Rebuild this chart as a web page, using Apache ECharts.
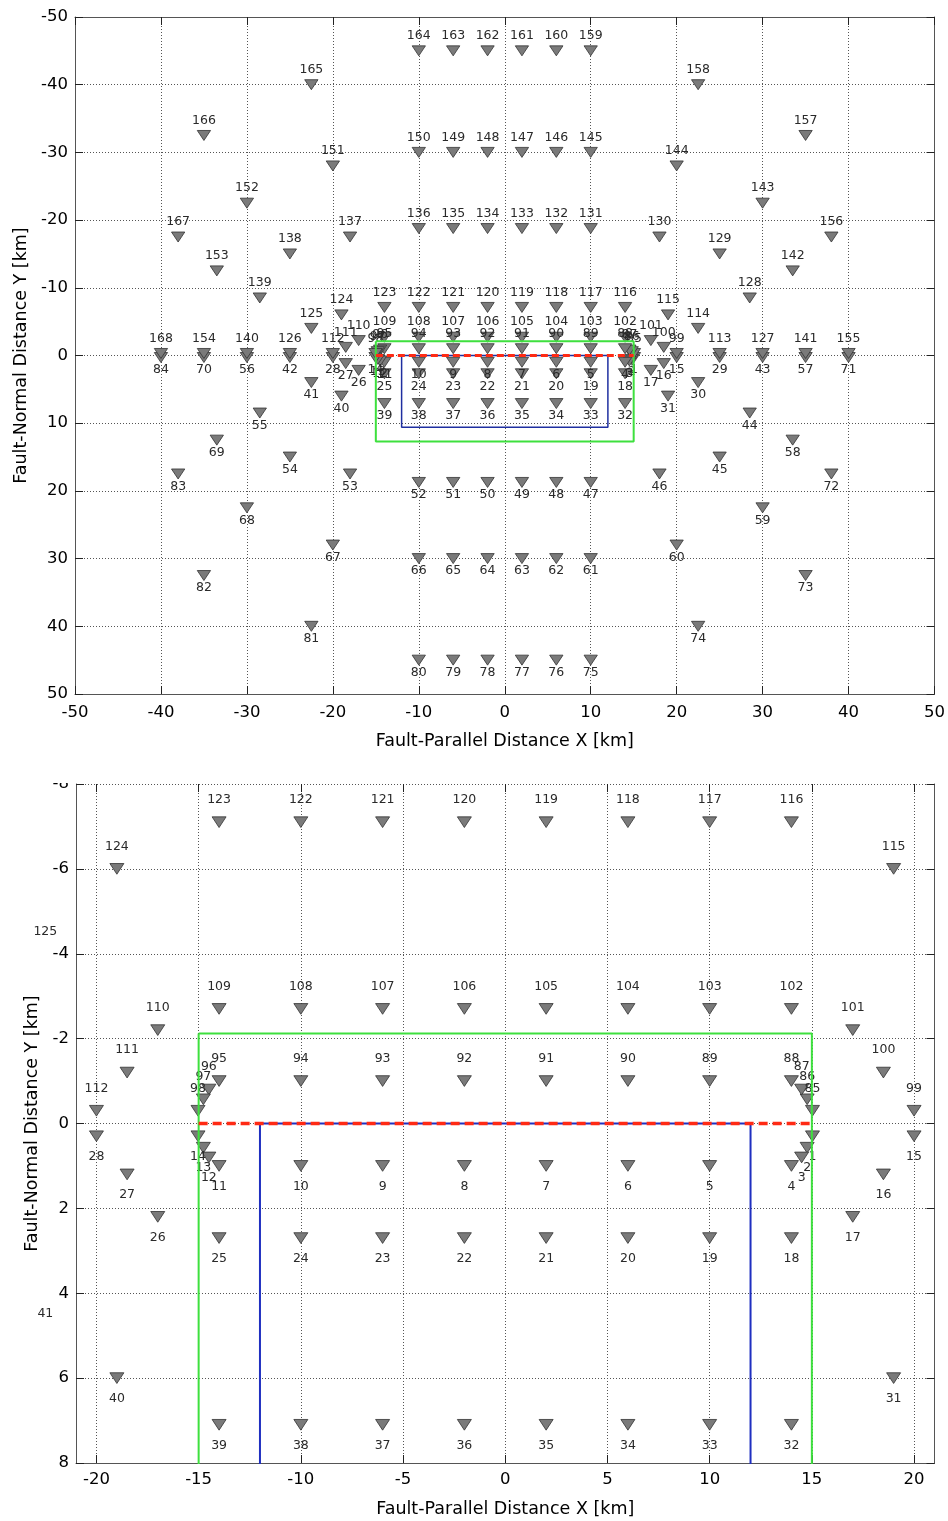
<!DOCTYPE html>
<html><head><meta charset="utf-8">
<script src="https://cdn.jsdelivr.net/npm/echarts@6/dist/echarts.min.js"></script>
<style>html,body{margin:0;padding:0;background:#fff}#c{width:948px;height:1521px}</style>
</head><body><div id="c"></div><script>
// Stations 1-84 (south side, labels below)
const southX = [15.03,14.77,14.5,14,10,6,2,-2,-6,-10,-14,-14.5,-14.77,-15.03,
  20,18.5,17,14,10,6,2,-2,-6,-10,-14,-17,-18.5,-20,
  25,22.5,19,14,10,6,2,-2,-6,-10,-14,-19,-22.5,-25,
  30,28.5,25,18,10,6,2,-2,-6,-10,-18,-25,-28.5,-30,
  35,33.5,30,20,10,6,2,-2,-6,-10,-20,-30,-33.5,-35,
  40,38,35,22.5,10,6,2,-2,-6,-10,-22.5,-35,-38,-40];
const southY = [0.3,0.57,0.8,1,1,1,1,1,1,1,1,0.8,0.57,0.3,
  0.3,1.2,2.2,2.7,2.7,2.7,2.7,2.7,2.7,2.7,2.7,2.2,1.2,0.3,
  0.3,4,6,7.1,7.1,7.1,7.1,7.1,7.1,7.1,7.1,6,4,0.3,
  0.3,8.5,15,17.5,18.75,18.75,18.75,18.75,18.75,18.75,17.5,15,8.5,0.3,
  0.3,12.5,22.5,28,30,30,30,30,30,30,28,22.5,12.5,0.3,
  0.3,17.5,32.5,40,45,45,45,45,45,45,40,32.5,17.5,0.3];
// Stations 85-168 (north side, labels above)
const northX = [15.03,14.77,14.5,14,10,6,2,-2,-6,-10,-14,-14.5,-14.77,-15.03,
  20,18.5,17,14,10,6,2,-2,-6,-10,-14,-17,-18.5,-20,
  25,22.5,19,14,10,6,2,-2,-6,-10,-14,-19,-22.5,-25,
  30,28.5,25,18,10,6,2,-2,-6,-10,-18,-25,-28.5,-30,
  35,33.5,30,20,10,6,2,-2,-6,-10,-20,-30,-33.5,-35,
  40,38,35,22.5,10,6,2,-2,-6,-10,-22.5,-35,-38,-40];
const northY = [-0.3,-0.57,-0.8,-1,-1,-1,-1,-1,-1,-1,-1,-0.8,-0.57,-0.3,
  -0.3,-1.2,-2.2,-2.7,-2.7,-2.7,-2.7,-2.7,-2.7,-2.7,-2.7,-2.2,-1.2,-0.3,
  -0.3,-4,-6,-7.1,-7.1,-7.1,-7.1,-7.1,-7.1,-7.1,-7.1,-6,-4,-0.3,
  -0.3,-8.5,-15,-17.5,-18.75,-18.75,-18.75,-18.75,-18.75,-18.75,-17.5,-15,-8.5,-0.3,
  -0.3,-12.5,-22.5,-28,-30,-30,-30,-30,-30,-30,-28,-22.5,-12.5,-0.3,
  -0.3,-17.5,-32.5,-40,-45,-45,-45,-45,-45,-45,-40,-32.5,-17.5,-0.3];
const southFirstId = 1, northFirstId = 85;

// Outlines
const faultX = [-15, 15], faultY = [0, 0];
const outerBoxX = [-15, 15, 15, -15, -15], outerBoxY = [-2.12, -2.12, 12.7, 12.7, -2.12];
const innerBoxX = [-12, 12, 12, -12, -12], innerBoxY = [0, 0, 10.6, 10.6, 0];

// Tick labels
const overviewTicks = [-50,-40,-30,-20,-10,0,10,20,30,40,50];
const detailXTicks = [-20,-15,-10,-5,0,5,10,15,20];
const detailYTicks = [-8,-6,-4,-2,0,2,4,6,8];

const FONT = 'DejaVu Sans';
const AXC = '#555';
const GRC = '#555';

function stations(above, below) {
  const out = [];
  southX.forEach((x, i) => out.push({ value: [x, southY[i], southFirstId + i], label: { offset: [0, below] } }));
  northX.forEach((x, i) => out.push({ value: [x, northY[i], northFirstId + i], label: { offset: [0, above] } }));
  return out;
}
const zip = (xs, ys) => xs.map((x, i) => [x, ys[i]]);

function xMain(g, min, max, ticks, gap, margin) {
  return { gridIndex: g, type: 'value', min, max, position: 'bottom',
    name: 'Fault-Parallel Distance X [km]', nameLocation: 'middle', nameGap: gap,
    nameTextStyle: { fontFamily: FONT, fontSize: 17.5, color: '#000' },
    axisLine: { show: true, onZero: false, lineStyle: { color: AXC, width: 1 } },
    axisTick: { show: true, inside: true, length: 8, customValues: ticks, lineStyle: { color: '#222' } },
    axisLabel: { fontFamily: FONT, fontSize: 16.5, color: '#000', margin, customValues: ticks },
    splitLine: { show: true, lineStyle: { color: GRC, type: [1, 2], width: 1 } } };
}
function xTop(g, min, max, ticks, line) {
  return { gridIndex: g, type: 'value', min, max, position: 'top',
    axisLine: { show: line, onZero: false, lineStyle: { color: AXC, width: 1 } },
    axisTick: { show: true, inside: true, length: 8, customValues: ticks, lineStyle: { color: '#222' } },
    axisLabel: { show: false, customValues: ticks }, splitLine: { show: false } };
}
function yMain(g, min, max, ticks, gap) {
  return { gridIndex: g, type: 'value', min, max, inverse: true, position: 'left',
    name: 'Fault-Normal Distance Y [km]', nameLocation: 'middle', nameGap: gap,
    nameTextStyle: { fontFamily: FONT, fontSize: 17.5, color: '#000' },
    axisLine: { show: true, onZero: false, lineStyle: { color: AXC, width: 1 } },
    axisTick: { show: true, inside: true, length: 8, customValues: ticks, lineStyle: { color: '#222' } },
    axisLabel: { fontFamily: FONT, fontSize: 16.5, color: '#000', margin: 7, customValues: ticks },
    splitLine: { show: true, lineStyle: { color: GRC, type: [1, 2], width: 1 } } };
}
function yRight(g, min, max, ticks) {
  return { gridIndex: g, type: 'value', min, max, inverse: true, position: 'right',
    axisLine: { show: true, onZero: false, lineStyle: { color: AXC, width: 1 } },
    axisTick: { show: true, inside: true, length: 8, customValues: ticks, lineStyle: { color: '#222' } },
    axisLabel: { show: false, customValues: ticks }, splitLine: { show: false } };
}

const labelBase = { show: true, position: 'inside', fontFamily: FONT, fontSize: 12.5, color: '#2a2a2a', opacity: 1,
  textBorderWidth: 0, textBorderColor: 'transparent',
  formatter: p => String(p.value[2]) };

function stationSeries(xi, yi, size, above, below) {
  return { type: 'scatter', xAxisIndex: xi, yAxisIndex: yi, clip: true, z: 3,
    symbol: 'triangle', symbolRotate: 180, symbolSize: size,
    itemStyle: { color: '#7a7a7a', borderColor: '#333', borderWidth: 0.8, opacity: 1 },
    label: labelBase, emphasis: { disabled: true },
    data: stations(above, below) };
}
function lineSeries(xi, yi, xs, ys, color, width, type, z) {
  return { type: 'line', xAxisIndex: xi, yAxisIndex: yi, clip: true, z,
    symbol: 'none', showSymbol: false, silent: true,
    lineStyle: { color, width, type }, data: zip(xs, ys) };
}
// labels of stations just outside the detail panel's x range (text is not clipped)
function outsideLabels(xi, yi, above, below) {
  const d = stations(above, below).filter(p => Math.abs(p.value[0]) > 21 && Math.abs(p.value[0]) <= 23 && Math.abs(p.value[1]) <= 8);
  return { type: 'scatter', xAxisIndex: xi, yAxisIndex: yi, clip: false, z: 3,
    symbol: 'circle', symbolSize: 1, itemStyle: { color: 'rgba(0,0,0,0)' },
    label: labelBase, emphasis: { disabled: true }, data: d };
}

const chart = echarts.init(document.getElementById('c'), null, { renderer: 'canvas' });
chart.setOption({
  animation: false,
  backgroundColor: '#fff',
  grid: [
    { left: 75, top: 17, width: 860, height: 677 },
    { left: 76, top: 784, width: 858.5, height: 679 }
  ],
  xAxis: [
    xMain(0, -50, 50, overviewTicks, 38, 10),
    xTop(0, -50, 50, overviewTicks, true),
    xMain(1, -21, 21, detailXTicks, 37, 8),
    xTop(1, -21, 21, detailXTicks, false)
  ],
  yAxis: [
    yMain(0, -50, 50, overviewTicks, 44),
    yRight(0, -50, 50, overviewTicks),
    yMain(1, -8, 8, detailYTicks, 33),
    yRight(1, -8, 8, detailYTicks)
  ],
  series: [
    stationSeries(0, 0, [13.3, 10], -15, 12.5),
    lineSeries(0, 0, innerBoxX, innerBoxY, '#1f2fa0', 1.5, 'solid', 5),
    lineSeries(0, 0, outerBoxX, outerBoxY, '#3ee03e', 2, 'solid', 6),
    lineSeries(0, 0, faultX, faultY, '#ff2a14', 3, [7, 4], 7),
    stationSeries(2, 2, [14, 10.7], -22.5, 20.5),
    outsideLabels(2, 2, -22.5, 20.5),
    lineSeries(2, 2, innerBoxX, innerBoxY, '#1f2fc0', 2, 'solid', 5),
    lineSeries(2, 2, outerBoxX, outerBoxY, '#3ee03e', 2, 'solid', 6),
    lineSeries(2, 2, faultX, faultY, '#ff2a14', 3.5, [9, 5], 7)
  ],
  graphic: [
    { type: 'rect', shape: { x: 0, y: 756, width: 948, height: 27 }, style: { fill: '#fff' }, z: 100 }
  ]
});
</script></body></html>
